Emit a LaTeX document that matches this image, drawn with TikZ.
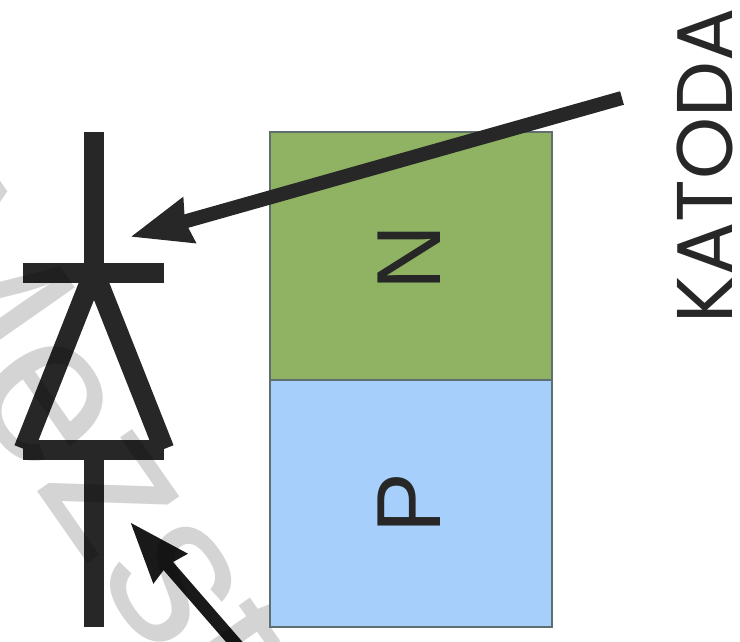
\documentclass[tikz,border=0pt]{standalone}
\usepackage{fontspec}
\setmainfont{Liberation Sans}
\newfontfamily\katfont{Poppins}
\usetikzlibrary{arrows.meta}
\definecolor{ink}{HTML}{272727}
\definecolor{ngreen}{HTML}{8FB263}
\definecolor{pblue}{HTML}{A6CFFB}
\definecolor{edgec}{HTML}{5F6E6E}
\tikzset{
  diodeline/.style={draw=ink,line width=20.5pt},
  layerbox/.style={draw=edgec,line width=2pt,minimum width=282pt,minimum height=247pt,inner sep=0pt,outer sep=0pt},
  layertext/.style={rotate=90,inner sep=0pt,text=ink,font=\fontsize{91}{91}\selectfont},
  pointer/.style={draw=ink,line width=14pt,-{Stealth[length=60pt,width=44pt,inset=3pt]}},
  wmark/.style={rotate=-55,anchor=base west,inner sep=0pt,text=black,text opacity=0.17,font=\fontsize{215}{215}\selectfont}
}
\begin{document}
\begin{tikzpicture}[x=1pt,y=-1pt]
\useasboundingbox (0,0) rectangle (740,642);
\clip (0,0) rectangle (740,642);
\coordinate (ctop) at (94,132);
\coordinate (cjoin) at (94,273);
\coordinate (cbase) at (94,450);
\coordinate (cend) at (94,627);
\coordinate (bara) at (23,273);
\coordinate (barb) at (164,273);
\coordinate (barc) at (23,450);
\coordinate (bard) at (164,450);
\coordinate (apex) at (94,272);
\coordinate (triL) at (24,449);
\coordinate (triR) at (164,449);
\draw[diodeline] (ctop) -- (cjoin);
\draw[diodeline] (bara) -- (barb);
\draw[diodeline] (apex) -- (triL);
\draw[diodeline] (apex) -- (triR);
\draw[diodeline] (barc) -- (bard);
\draw[diodeline] (cbase) -- (cend);
\coordinate (anodeTail) at (243,652);
\coordinate (anodeTip) at (130,522);
\draw[pointer,line width=12.5pt,draw=black!90,-{Stealth[length=60pt,width=42pt,inset=3pt]}] (anodeTail) -- (anodeTip);
\node[wmark] (wm) at (-139,240) {Mezst};
\node[layerbox,fill=ngreen] (nbox) at (411,256) {};
\node[layerbox,fill=pblue] (pbox) at (411,503.5) {};
\node[layertext] (nlabel) at (409.5,258) {N};
\node[layertext] (plabel) at (409.5,503) {P};
\node[rotate=90,inner sep=0pt,text=ink,font=\katfont\fontsize{79}{79}\selectfont] (katoda) at (705,166) {KATODA};
\coordinate (kTail) at (622,98);
\coordinate (kTip) at (130,237);
\draw[pointer] (kTail) -- (kTip);
\end{tikzpicture}
\end{document}
